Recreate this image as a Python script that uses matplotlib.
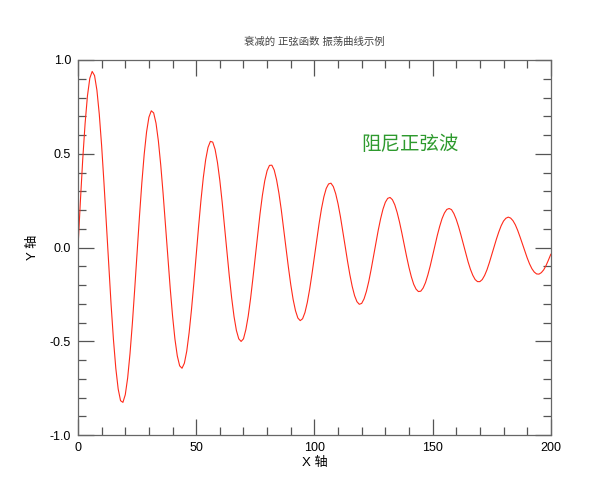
import matplotlib
matplotlib.use("Agg")
import matplotlib.pyplot as plt
from matplotlib.ticker import MultipleLocator, FormatStrFormatter

plt.rcParams['font.family'] = ['Liberation Sans', 'Noto Sans CJK SC', 'DejaVu Sans']
plt.rcParams['axes.unicode_minus'] = False

x_values = list(range(0, 201))
y_values = [
    0.000, 0.245, 0.470, 0.661, 0.809, 0.903, 0.939, 0.917, 0.839, 0.711,
    0.542, 0.342, 0.125, -0.095, -0.305, -0.492, -0.645, -0.755, -0.817, -0.826,
    -0.785, -0.696, -0.566, -0.404, -0.220, -0.026, 0.166, 0.344, 0.497, 0.616,
    0.695, 0.729, 0.718, 0.663, 0.568, 0.440, 0.288, 0.120, -0.051, -0.216,
    -0.365, -0.488, -0.578, -0.631, -0.644, -0.617, -0.553, -0.455, -0.332, -0.191,
    -0.040, 0.110, 0.250, 0.372, 0.468, 0.534, 0.566, 0.562, 0.523, 0.453,
    0.357, 0.240, 0.111, -0.022, -0.152, -0.269, -0.368, -0.442, -0.487, -0.501,
    -0.487, -0.438, -0.366, -0.272, -0.163, -0.047, 0.070, 0.180, 0.278, 0.356,
    0.410, 0.438, 0.439, 0.413, 0.361, 0.289, 0.200, 0.100, -0.004, -0.105,
    -0.198, -0.277, -0.337, -0.376, -0.390, -0.380, -0.347, -0.293, -0.222, -0.139,
    -0.049, 0.043, 0.129, 0.207, 0.270, 0.315, 0.339, 0.343, 0.325, 0.287,
    0.233, 0.165, 0.088, 0.008, -0.072, -0.145, -0.208, -0.257, -0.289, -0.303,
    -0.298, -0.274, -0.234, -0.181, -0.117, -0.047, 0.024, 0.092, 0.153, 0.204,
    0.241, 0.262, 0.267, 0.255, 0.228, 0.187, 0.136, 0.077, 0.014, -0.048,
    -0.106, -0.156, -0.196, -0.222, -0.235, -0.233, -0.216, -0.187, -0.146, -0.098,
    -0.044, 0.011, 0.065, 0.113, 0.154, 0.184, 0.203, 0.208, 0.202, 0.181,
    0.150, 0.111, 0.066, 0.018, -0.031, -0.076, -0.116, -0.148, -0.171, -0.182,
    -0.182, -0.171, -0.149, -0.119, -0.081, -0.040, 0.003, 0.045, 0.083, 0.116,
    0.141, 0.156, 0.162, 0.157, 0.143, 0.121, 0.091, 0.056, 0.019, -0.019,
    -0.055, -0.087, -0.113, -0.131, -0.141, -0.142, -0.134, -0.119, -0.096, -0.067,
    -0.036,
]

title_text = "衰减的 正弦函数 振荡曲线示例"
annotation_text = "阻尼正弦波"
xlabel_text = "X 轴"
ylabel_text = "Y 轴"

fig = plt.figure(figsize=(6, 5), dpi=100)
ax = fig.add_axes([0.13, 0.13, 0.788, 0.75])

ax.plot(x_values, y_values, color='#ff2a1a', lw=0.8)

ax.set_xlim(0, 200)
ax.set_ylim(-1.0, 1.0)
ax.xaxis.set_major_locator(MultipleLocator(50))
ax.xaxis.set_minor_locator(MultipleLocator(10))
ax.yaxis.set_major_locator(MultipleLocator(0.5))
ax.yaxis.set_minor_locator(MultipleLocator(0.1))
ax.yaxis.set_major_formatter(FormatStrFormatter('%.1f'))

ax.tick_params(which='both', direction='in', top=True, right=True,
               color='#555555', labelsize=9, labelcolor='black')
ax.tick_params(which='major', length=11.5, width=0.9, pad=5)
ax.tick_params(which='minor', length=5.8, width=0.9)
for s in ax.spines.values():
    s.set_color('#666666')
    s.set_linewidth(0.9)

ax.set_title(title_text, fontsize=7.5, color='#444444', pad=11)
ax.set_xlabel(xlabel_text, fontsize=9.5, labelpad=2)
ax.set_ylabel(ylabel_text, fontsize=9.5, labelpad=8)

ax.text(120, 0.55, annotation_text, fontsize=14, color='#2e9a2e',
        ha='left', va='center')

fig.savefig("out.png", dpi=100, facecolor='white')
